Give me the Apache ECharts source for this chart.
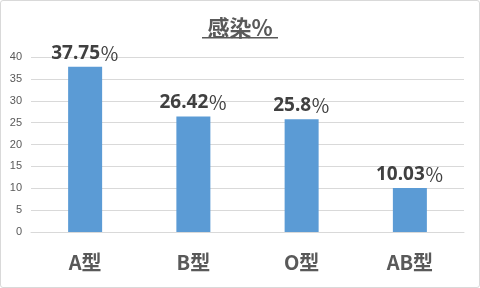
<!DOCTYPE html>
<html><head><meta charset="utf-8">
<script src="https://cdn.jsdelivr.net/npm/echarts@6/dist/echarts.min.js"></script>
<style>html,body{margin:0;padding:0;background:#fff}#c{width:478px;height:286px;border:1px solid #d9d9d9;border-radius:3px}</style>
</head><body><div id="c"></div>
<script>
const categories = ['A型','B型','O型','AB型'];
const values = [37.75, 26.42, 25.8, 10.03];
const labels = ['37.75','26.42','25.8','10.03'];
const chart = echarts.init(document.getElementById('c'));
chart.setOption({
  animation:false,
  title:{text:'感染%',left:'center',top:11,textStyle:{fontFamily:'Noto Sans CJK SC',fontSize:22,fontWeight:'bold',color:'#595959'}},
  graphic:[{type:'rect',shape:{x:201,y:36,width:76,height:1.5},style:{fill:'#595959'}}],
  grid:{left:30,right:15,top:56,bottom:55},
  xAxis:{type:'category',data:categories,axisTick:{show:false},
    axisLine:{lineStyle:{color:'#d9d9d9'}},
    axisLabel:{margin:20,fontFamily:'Noto Sans CJK SC',fontSize:20,fontWeight:'bold',color:'#595959'}},
  yAxis:{type:'value',min:0,max:40,interval:5,
    axisLine:{show:false},axisTick:{show:false},
    splitLine:{lineStyle:{color:'#d9d9d9'}},
    axisLabel:{margin:9,fontFamily:'Liberation Sans',fontSize:11,color:'#595959'}},
  series:[{type:'bar',data:values,barWidth:34,itemStyle:{color:'#5b9bd5'},
    label:{show:true,position:'top',distance:4,
      formatter:p=>'{n|'+labels[p.dataIndex]+'}{p|％}',
      rich:{n:{fontFamily:'Noto Sans',fontSize:19,fontWeight:'bold',color:'#404040'},
            p:{fontFamily:'Noto Sans CJK SC',fontSize:19,fontWeight:'normal',color:'#404040'}}}}]
});
</script></body></html>
